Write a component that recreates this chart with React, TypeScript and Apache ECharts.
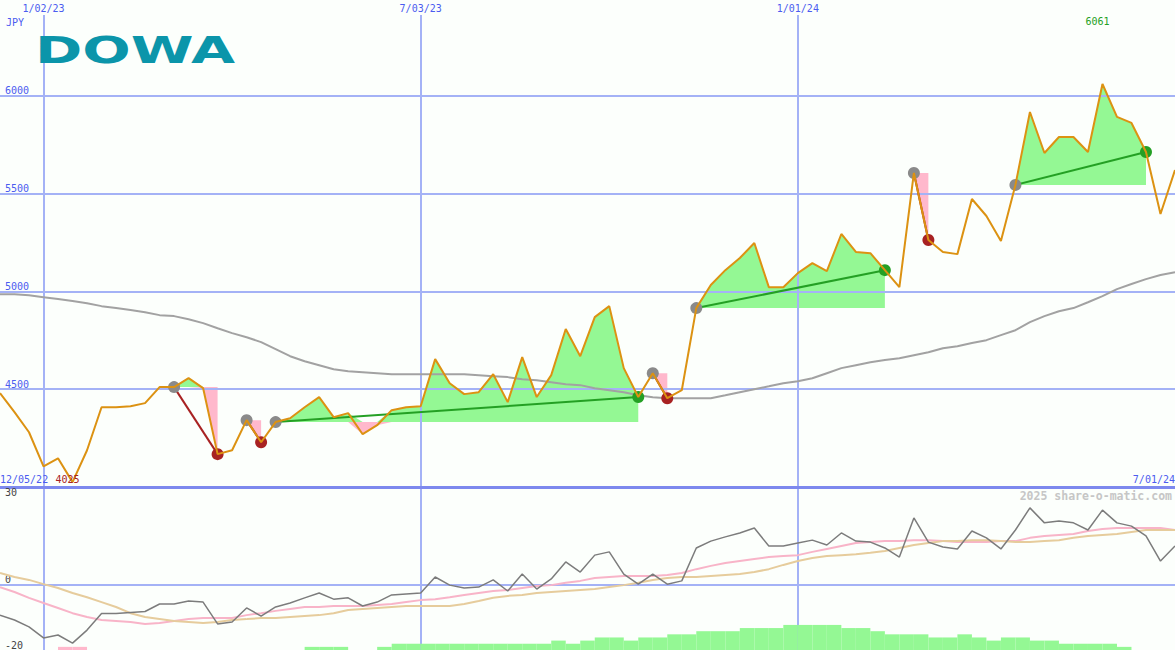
import React, { useEffect, useRef } from "react";
import * as echarts from "echarts";

// ---- labels / categories ----
const START_DATE = "2022-12-12"; // first weekly point (left edge)
const START_LABEL = "12/05/22";
const GRID_DATES = ["1/02/23", "7/03/23", "1/01/24"];
const UNIT = "JPY";
const TITLE = "DOWA";
const WATERMARK = "2025 share-o-matic.com";

// ---- weekly close (JPY) ----
const PRICE = [
  4480, 4383, 4280, 4106, 4147, 4025, 4188, 4408, 4408, 4413,
  4429, 4511, 4511, 4557, 4506, 4168, 4188, 4342, 4229, 4332,
  4352, 4408, 4460, 4357, 4378, 4270, 4316, 4393, 4408, 4413,
  4654, 4531, 4475, 4485, 4577, 4434, 4664, 4460, 4572, 4808,
  4669, 4869, 4925, 4608, 4460, 4582, 4454, 4495, 4915, 5033,
  5109, 5171, 5248, 5022, 5022, 5094, 5145, 5104, 5294, 5202,
  5196, 5109, 5022, 5606, 5263, 5202, 5191, 5473, 5386, 5258,
  5545, 5918, 5708, 5790, 5790, 5713, 6061, 5893, 5862, 5713,
  5396, 5621,
];

// ---- long moving average (gray) ----
const MA = [
  4986, 4986, 4981, 4971, 4961, 4951, 4940, 4925, 4915, 4905,
  4894, 4879, 4874, 4858, 4838, 4812, 4787, 4766, 4741, 4705,
  4669, 4643, 4623, 4602, 4592, 4587, 4582, 4577, 4577, 4577,
  4577, 4577, 4577, 4572, 4567, 4562, 4551, 4546, 4536, 4526,
  4521, 4505, 4495, 4485, 4469, 4459, 4454, 4454, 4454, 4454,
  4469, 4485, 4500, 4515, 4531, 4541, 4556, 4582, 4608, 4623,
  4638, 4649, 4659, 4674, 4689, 4710, 4720, 4736, 4751, 4777,
  4802, 4843, 4874, 4899, 4915, 4945, 4976, 5012, 5038, 5063,
  5084, 5099,
];

// ---- lower panel oscillator ----
const OSC = [
  -9.3, -10.8, -12.9, -16.3, -15.4, -17.9, -13.9, -8.8, -8.8, -8.5,
  -8.2, -5.9, -5.9, -5.0, -5.3, -12.0, -11.4, -7.1, -9.6, -6.8,
  -5.6, -4.0, -2.5, -4.4, -4.0, -6.5, -5.3, -3.1, -2.8, -2.5,
  2.4, -0.1, -1.0, -0.7, 1.5, -1.9, 3.3, -1.3, 1.8, 7.0,
  3.9, 9.1, 10.1, 3.3, 0.2, 3.3, 0.2, 1.2, 11.3, 13.4,
  14.7, 15.9, 17.4, 11.9, 11.9, 12.8, 13.7, 12.2, 15.9, 13.4,
  13.1, 11.3, 8.5, 20.5, 13.1, 11.6, 11.0, 16.5, 14.4, 11.0,
  16.8, 23.6, 19.0, 19.6, 19.0, 16.8, 22.9, 19.0, 18.0, 15.0,
  7.3, 11.9,
];
const SIGNAL_FAST = [
  -0.7, -2.2, -4.0, -5.6, -7.1, -8.7, -9.9, -10.8, -11.1, -11.4,
  -12.0, -11.7, -11.1, -10.5, -10.2, -10.2, -10.2, -9.3, -8.7, -8.0,
  -7.4, -6.8, -6.8, -6.5, -6.5, -6.5, -6.2, -5.9, -5.3, -4.7,
  -4.4, -3.8, -3.1, -2.5, -1.9, -1.6, -1.0, -0.4, -0.1, 0.6,
  1.2, 2.1, 2.4, 2.7, 2.7, 2.7, 3.0, 3.6, 4.8, 5.8,
  6.7, 7.3, 7.9, 8.5, 8.8, 9.1, 10.1, 11.0, 11.9, 12.8,
  13.1, 13.4, 13.4, 13.7, 13.7, 13.4, 13.1, 13.1, 13.1, 13.4,
  13.4, 14.4, 15.0, 15.3, 15.6, 16.5, 17.1, 17.4, 17.4, 17.4,
  17.4, 16.8,
];
const SIGNAL_SLOW = [
  3.6, 2.4, 1.5, 0.2, -1.0, -2.5, -3.8, -5.3, -6.8, -8.7,
  -9.9, -10.5, -11.1, -11.4, -11.7, -11.4, -10.8, -10.5, -10.2, -10.2,
  -9.9, -9.6, -9.3, -8.7, -7.7, -7.4, -7.1, -6.8, -6.5, -6.5,
  -6.5, -6.5, -5.9, -5.0, -4.0, -3.4, -3.1, -2.5, -2.2, -1.9,
  -1.6, -1.3, -0.7, -0.1, 0.6, 1.5, 2.1, 2.4, 2.4, 2.7,
  3.0, 3.3, 3.9, 4.8, 6.1, 7.3, 8.2, 8.8, 9.1, 9.4,
  9.8, 10.4, 11.3, 12.2, 12.8, 13.4, 13.4, 13.7, 13.7, 13.4,
  13.1, 13.1, 13.4, 13.7, 14.4, 15.0, 15.3, 15.6, 16.2, 16.8,
  16.8, 16.8,
];
// histogram per weekly interval (81 intervals)
const HIST_UP = [
  0, 0, 0, 0, 0, 0, 0, 0, 0, 0,
  0, 0, 0, 0, 0, 0, 0, 0, 0, 0,
  0, 1, 1, 1, 0, 0, 1, 2, 2, 2,
  2, 2, 2, 2, 2, 2, 2, 2, 3, 2,
  3, 4, 4, 3, 4, 4, 5, 5, 6, 6,
  6, 7, 7, 7, 8, 8, 8, 8, 7, 7,
  6, 5, 5, 5, 4, 4, 5, 4, 3, 4,
  4, 3, 3, 2, 2, 2, 2, 1, 0, 0,
  0,
];
const HIST_DOWN = [
  0, 0, 0, 0, 1, 1, 0, 0, 0, 0,
  0, 0, 0, 0, 0, 0, 0, 0, 0, 0,
  0, 0, 0, 0, 0, 0, 0, 0, 0, 0,
  0, 0, 0, 0, 0, 0, 0, 0, 0, 0,
  0, 0, 0, 0, 0, 0, 0, 0, 0, 0,
  0, 0, 0, 0, 0, 0, 0, 0, 0, 0,
  0, 0, 0, 0, 0, 0, 0, 0, 0, 0,
  0, 0, 0, 0, 0, 0, 0, 0, 0, 0,
  0,
];
// trend segments: [start index, end index]
const SEGMENTS: [number, number][] = [
  [12, 15], [17, 18], [19, 44], [45, 46], [48, 61], [63, 64], [70, 79],
];

// ---- styles ----
const MONO = "'DejaVu Sans Mono', monospace";
const BLUE_TEXT = "#4b5cf0";
const GRID_BLUE = "#a4b2f6";
const DIVIDER = "#7d89ee";
const PRICE_COLOR = "#dc9212";
const MA_COLOR = "#a2a2a2";
const FILL_GREEN = "#94f894";
const FILL_PINK = "#ffb8cc";
const UP_GREEN = "#24a024";
const DOWN_RED = "#a82222";
const START_GRAY = "#8a8a8a";

const N = PRICE.length;
const pad2 = (n: number) => String(n).padStart(2, "0");
const DATES = Array.from({ length: N }, (_, i) => {
  const d = new Date(START_DATE + "T00:00:00Z");
  d.setUTCDate(d.getUTCDate() + 7 * i);
  return `${d.getUTCMonth() + 1}/${pad2(d.getUTCDate())}/${pad2(d.getUTCFullYear() % 100)}`;
});

function buildOption(): any {
  const fills: any[] = [];
  const connectors: any[] = [];
  SEGMENTS.forEach(([s, e]) => {
    const base = PRICE[s];
    const inSeg = (i: number) => i >= s && i <= e;
    const area = (data: (number | null)[], color: string) => ({
      type: "line",
      xAxisIndex: 0,
      yAxisIndex: 0,
      data,
      symbol: "none",
      silent: true,
      lineStyle: { width: 0, opacity: 0 },
      areaStyle: { color, opacity: 1, origin: base },
      z: -1,
    });
    fills.push(area(PRICE.map((p, i) => (inSeg(i) ? Math.max(p, base) : null)), FILL_GREEN));
    fills.push(area(PRICE.map((p, i) => (inSeg(i) ? Math.min(p, base) : null)), FILL_PINK));
    const isUp = PRICE[e] > PRICE[s];
    const endColor = isUp ? UP_GREEN : DOWN_RED;
    connectors.push({
      type: "line",
      xAxisIndex: 0,
      yAxisIndex: 0,
      data: PRICE.map((p, i) =>
        i === s
          ? { value: p, itemStyle: { color: START_GRAY } }
          : i === e
          ? { value: p, itemStyle: { color: endColor } }
          : null
      ),
      connectNulls: true,
      symbol: "circle",
      symbolSize: 12,
      showSymbol: true,
      showAllSymbol: true,
      silent: true,
      lineStyle: { color: endColor, width: 2 },
      z: 2,
    });
  });

  return {
    animation: false,
    backgroundColor: "#fcfffc",
    textStyle: { fontFamily: MONO },
    grid: [
      { left: 0, right: 0, top: 15, height: 472, outerBoundsMode: "none" },
      { left: 0, right: 0, top: 487, height: 163, outerBoundsMode: "none" },
    ],
    xAxis: [
      {
        type: "category",
        gridIndex: 0,
        data: DATES,
        boundaryGap: false,
        position: "bottom",
        axisLine: { show: true, onZero: false, lineStyle: { color: DIVIDER, width: 3 } },
        axisTick: { show: false },
        axisLabel: {
          show: true,
          inside: true,
          margin: 3,
          interval: (i: number) => i === 0 || i === N - 1,
          formatter: (v: string, i: number) => (i === 0 ? START_LABEL : v),
          color: BLUE_TEXT,
          fontFamily: MONO,
          fontSize: 10,
          alignMinLabel: "left",
          alignMaxLabel: "right",
        },
        splitLine: {
          show: true,
          interval: (_i: number, v: string) => GRID_DATES.includes(v),
          lineStyle: { color: GRID_BLUE, width: 2 },
        },
      },
      {
        type: "category",
        gridIndex: 0,
        data: DATES,
        boundaryGap: false,
        position: "top",
        axisLine: { show: false },
        axisTick: { show: false },
        splitLine: { show: false },
        axisLabel: {
          interval: (_i: number, v: string) => GRID_DATES.includes(v),
          margin: 2,
          color: BLUE_TEXT,
          fontFamily: MONO,
          fontSize: 10,
        },
      },
      {
        type: "category",
        gridIndex: 1,
        data: DATES,
        boundaryGap: false,
        axisLine: { show: false },
        axisTick: { show: false },
        axisLabel: { show: false },
        splitLine: {
          show: true,
          interval: (_i: number, v: string) => GRID_DATES.includes(v),
          lineStyle: { color: GRID_BLUE, width: 2 },
        },
      },
      {
        type: "category",
        gridIndex: 1,
        data: DATES.slice(0, -1),
        boundaryGap: true,
        show: false,
      },
    ],
    yAxis: [
      {
        type: "value",
        gridIndex: 0,
        min: 4000,
        max: 6414,
        interval: 500,
        name: UNIT,
        nameLocation: "end",
        nameGap: -12,
        nameTextStyle: { align: "left", padding: [0, 0, 0, 6], color: BLUE_TEXT, fontFamily: MONO, fontSize: 10 },
        axisLine: { show: false },
        axisTick: { show: false },
        axisLabel: {
          inside: true,
          margin: 5,
          verticalAlign: "bottom",
          color: BLUE_TEXT,
          fontFamily: MONO,
          fontSize: 10,
          formatter: (v: number) => (v > 4000 && v % 500 === 0 ? String(v) : ""),
        },
        splitLine: {
          show: true,
          showMinLine: false,
          showMaxLine: false,
          lineStyle: { color: GRID_BLUE, width: 2 },
        },
      },
      {
        type: "value",
        gridIndex: 1,
        min: -20,
        max: 30,
        interval: 10,
        axisLine: { show: false },
        axisTick: { show: false },
        splitLine: { show: false },
        axisLabel: {
          inside: true,
          margin: 5,
          verticalAlign: "bottom",
          verticalAlignMaxLabel: "top",
          color: "#444",
          fontFamily: MONO,
          fontSize: 10,
          formatter: (v: number) => (v === -20 || v === 0 || v === 30 ? String(v) : ""),
        },
      },
      { type: "value", gridIndex: 1, min: 0, max: 52, show: false },
    ],
    series: [
      ...fills,
      {
        type: "line",
        name: "MA",
        xAxisIndex: 0,
        yAxisIndex: 0,
        data: MA,
        symbol: "none",
        silent: true,
        lineStyle: { color: MA_COLOR, width: 2 },
        z: 1,
      },
      ...connectors,
      {
        type: "line",
        name: "Price",
        xAxisIndex: 0,
        yAxisIndex: 0,
        data: PRICE,
        symbol: "none",
        silent: true,
        lineStyle: { color: PRICE_COLOR, width: 2 },
        z: 3,
        markPoint: {
          symbol: "circle",
          symbolSize: 1,
          silent: true,
          itemStyle: { color: "rgba(0,0,0,0)" },
          data: [
            {
              type: "min",
              label: { show: true, position: "inside", offset: [-5, -3], color: DOWN_RED, fontFamily: MONO, fontSize: 10, formatter: "{c}" },
            },
            {
              type: "max",
              label: { show: true, position: "inside", offset: [-5, -63], color: UP_GREEN, fontFamily: MONO, fontSize: 10, formatter: "{c}" },
            },
          ],
        },
      },
      {
        type: "bar",
        xAxisIndex: 3,
        yAxisIndex: 2,
        data: HIST_UP.map((v) => (v > 0 ? v : null)),
        barWidth: "100%",
        barGap: "-100%",
        silent: true,
        itemStyle: { color: FILL_GREEN },
      },
      {
        type: "bar",
        xAxisIndex: 3,
        yAxisIndex: 2,
        data: HIST_DOWN.map((v) => (v > 0 ? v : null)),
        barWidth: "100%",
        barGap: "-100%",
        silent: true,
        itemStyle: { color: FILL_PINK },
      },
      {
        type: "line",
        xAxisIndex: 2,
        yAxisIndex: 1,
        data: SIGNAL_FAST,
        symbol: "none",
        silent: true,
        lineStyle: { color: "#f8b4c8", width: 2 },
        z: 2,
      },
      {
        type: "line",
        xAxisIndex: 2,
        yAxisIndex: 1,
        data: SIGNAL_SLOW,
        symbol: "none",
        silent: true,
        lineStyle: { color: "#e6cc9c", width: 2 },
        z: 2,
      },
      {
        type: "line",
        xAxisIndex: 2,
        yAxisIndex: 1,
        data: OSC,
        symbol: "none",
        silent: true,
        lineStyle: { color: "#7c7c7c", width: 1.5 },
        z: 3,
        markLine: {
          silent: true,
          symbol: ["none", "none"],
          z: 1,
          label: { show: false },
          lineStyle: { color: GRID_BLUE, width: 2, type: "solid" },
          data: [{ yAxis: 0 }],
        },
      },
    ],
    graphic: [
      {
        type: "text",
        x: 35,
        y: 50,
        scaleX: 1.54,
        z: 10,
        style: {
          text: TITLE,
          fill: "#0b95aa",
          font: "bold 37px 'DejaVu Sans'",
          align: "left",
          verticalAlign: "middle",
          textAlign: "left",
          textVerticalAlign: "middle",
        },
      },
      {
        type: "text",
        x: 1172,
        y: 496,
        z: 10,
        style: {
          text: WATERMARK,
          fill: "#c6c6c6",
          font: "bold 11.5px 'DejaVu Sans Mono'",
          align: "right",
          verticalAlign: "middle",
          textAlign: "right",
          textVerticalAlign: "middle",
        },
      },
    ],
  };
}

export default function App() {
  const ref = useRef<HTMLDivElement>(null);
  useEffect(() => {
    if (!ref.current) return;
    const chart = echarts.init(ref.current, undefined, { renderer: "svg" });
    chart.setOption(buildOption());
    return () => chart.dispose();
  }, []);
  return (
    <div
      ref={ref}
      style={{ position: "fixed", left: 0, top: 0, width: 1175, height: 650 }}
    />
  );
}
